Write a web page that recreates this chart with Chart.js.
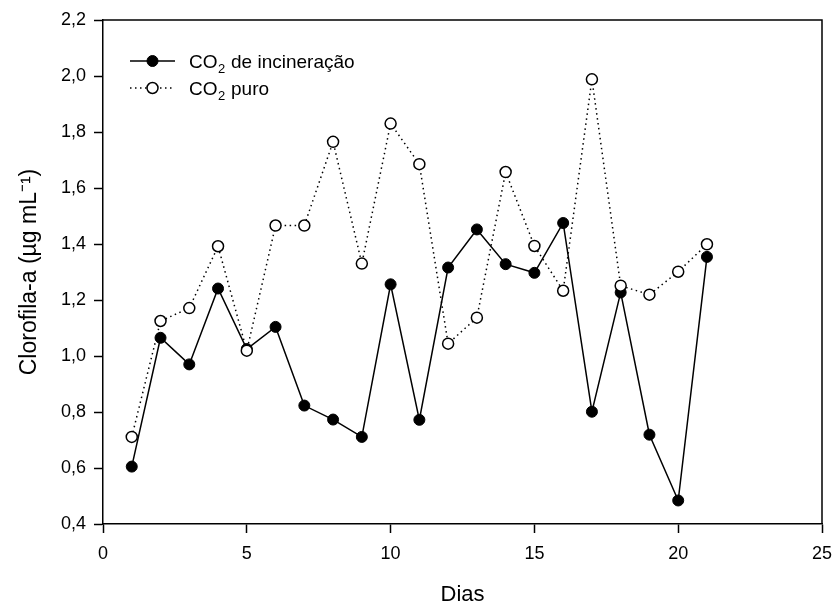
<!DOCTYPE html>
<html>
<head>
<meta charset="utf-8">
<script src="https://cdn.jsdelivr.net/npm/chart.js@4.4.0/dist/chart.umd.min.js"></script>
<style>
  html, body { margin: 0; padding: 0; background: #fff; }
  #wrap { width: 836px; height: 604px; }
</style>
</head>
<body>
<div id="wrap"><canvas id="chart" width="836" height="604"></canvas></div>
<script>
const days = [1, 2, 3, 4, 5, 6, 7, 8, 9, 10, 11, 12, 13, 14, 15, 16, 17, 18, 19, 20, 21];
const incineracao = [0.605, 1.065, 0.970, 1.241, 1.025, 1.104, 0.823, 0.773, 0.711, 1.256, 0.772,
  1.316, 1.452, 1.328, 1.297, 1.475, 0.801, 1.227, 0.719, 0.484, 1.354];
const puro = [0.711, 1.125, 1.171, 1.392, 1.019, 1.466, 1.466, 1.765, 1.330, 1.830, 1.685,
  1.044, 1.137, 1.657, 1.393, 1.233, 1.988, 1.251, 1.219, 1.301, 1.399];
const seriesNames = ['de incineração', 'puro'];
const xTicks = [0, 5, 10, 15, 20, 25];
const yTicks = [0.4, 0.6, 0.8, 1.0, 1.2, 1.4, 1.6, 1.8, 2.0, 2.2];

const FONT = '"Liberation Sans", Arial, sans-serif';
const toPts = vals => days.map((d, i) => ({ x: d, y: vals[i] }));

// frame on top and right
const frame = {
  id: 'frame',
  afterDraw(chart) {
    const { ctx, chartArea: a } = chart;
    ctx.save();
    ctx.strokeStyle = '#000';
    ctx.lineWidth = 1.5;
    ctx.beginPath();
    ctx.moveTo(a.left, a.top);
    ctx.lineTo(a.right, a.top);
    ctx.lineTo(a.right, a.bottom);
    ctx.stroke();
    ctx.restore();
  }
};

// legend inside the plot, CO with subscript 2
const legendBox = {
  id: 'legendBox',
  afterDraw(chart) {
    const { ctx, chartArea: a } = chart;
    const x0 = a.left + 27, x1 = a.left + 72, xm = (x0 + x1) / 2, tx = a.left + 86;
    const rows = [a.top + 41, a.top + 68];
    ctx.save();
    chart.data.datasets.slice().sort((p, q) => p.legendIdx - q.legendIdx).forEach((ds, i) => {
      const y = rows[i];
      ctx.strokeStyle = '#000';
      ctx.lineWidth = 1.5;
      ctx.setLineDash(ds.borderDash || []);
      ctx.beginPath(); ctx.moveTo(x0, y); ctx.lineTo(x1, y); ctx.stroke();
      ctx.setLineDash([]);
      ctx.beginPath(); ctx.arc(xm, y, 5.5, 0, Math.PI * 2);
      ctx.fillStyle = ds.pointBackgroundColor; ctx.fill();
      ctx.lineWidth = ds.pointBorderWidth; ctx.stroke();

      ctx.fillStyle = '#000';
      ctx.textBaseline = 'alphabetic';
      ctx.font = '19px ' + FONT;
      const base = y + 7;
      ctx.fillText('CO', tx, base);
      let w = ctx.measureText('CO').width;
      ctx.font = '13px ' + FONT;
      ctx.fillText('2', tx + w + 0.5, base + 5);
      w += ctx.measureText('2').width + 1;
      ctx.font = '19px ' + FONT;
      ctx.fillText(' ' + seriesNames[ds.legendIdx], tx + w, base);
    });
    ctx.restore();
  }
};

const axisLine = { display: true, color: '#000', width: 1.5 };
const tickGrid = { drawOnChartArea: false, drawTicks: true, tickLength: 9, tickColor: '#000', tickWidth: 1.5 };
const comma = v => v.toFixed(1).replace('.', ',');

new Chart(document.getElementById('chart'), {
  type: 'line',
  data: {
    datasets: [
      {
        label: 'CO₂ puro', legendIdx: 1, order: 1,
        data: toPts(puro),
        borderColor: '#000', borderWidth: 1.5, borderDash: [1.5, 3.5],
        pointRadius: 5.5, pointBorderWidth: 1.5,
        pointBackgroundColor: '#fff', pointBorderColor: '#000',
        tension: 0, fill: false
      },
      {
        label: 'CO₂ de incineração', legendIdx: 0, order: 2,
        data: toPts(incineracao),
        borderColor: '#000', borderWidth: 1.5,
        pointRadius: 5.5, pointBorderWidth: 1,
        pointBackgroundColor: '#000', pointBorderColor: '#000',
        tension: 0, fill: false
      }
    ]
  },
  options: {
    responsive: false,
    animation: false,
    layout: { padding: { left: 0, top: 20, right: 14, bottom: 0 } },
    plugins: { legend: { display: false }, tooltip: { enabled: false } },
    scales: {
      x: {
        type: 'linear', min: 0, max: 25,
        afterBuildTicks: s => { s.ticks = xTicks.map(v => ({ value: v })); },
        afterFit: s => { s.height = 80; s.paddingLeft = 0; s.paddingRight = 0; },
        border: axisLine, grid: tickGrid,
        ticks: { color: '#000', padding: 10, font: { family: FONT, size: 18 }, maxRotation: 0 },
        title: { display: true, text: 'Dias', color: '#000', font: { family: FONT, size: 22, lineHeight: 0.8 }, padding: 0 }
      },
      y: {
        type: 'linear', min: 0.4, max: 2.2,
        afterBuildTicks: s => { s.ticks = yTicks.map(v => ({ value: v })); },
        afterFit: s => { s.width = 103; s.paddingTop = 0; s.paddingBottom = 0; },
        border: axisLine, grid: tickGrid,
        ticks: { color: '#000', padding: 8, font: { family: FONT, size: 18 }, callback: comma },
        title: { display: true, text: 'Clorofila-a (µg mL⁻¹)', color: '#000', font: { family: FONT, size: 23, lineHeight: 1.2 }, padding: { top: 16 } }
      }
    }
  },
  plugins: [frame, legendBox]
});
</script>
</body>
</html>
